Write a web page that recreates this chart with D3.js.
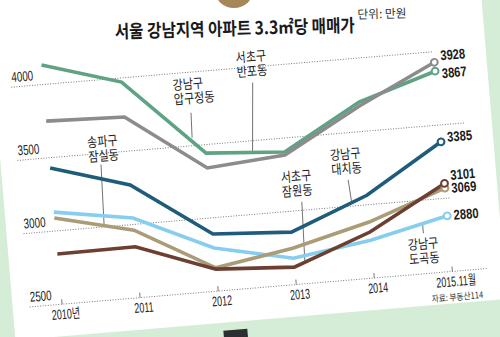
<!DOCTYPE html>
<html>
<head>
<meta charset="utf-8">
<script src="https://cdn.jsdelivr.net/npm/d3@7"></script>
<style>
  body { margin: 0; background: #d5ecd6; }
  svg { display: block; }
</style>
</head>
<body>
<div id="chart"></div>
<script>
// data (만원 per 3.3㎡)
const years = ["2010년", "2011", "2012", "2013", "2014", "2015.11월"];
const apgujeong = [4133, 3972, 3442, 3405, 3701, 3867];
const banpo     = [3750, 3733, 3341, 3384, 3674, 3928];
const daechi    = [3430, 3269, 2890, 2858, 3065, 3385];
const jamsil    = [3089, 2961, 2659, 2748, 2882, 3069];
const jamwon    = [2843, 2848, 2650, 2619, 2814, 3101];
const dogok     = [3129, 3044, 2795, 2680, 2758, 2880];
const yTicks = [2500, 3000, 3500, 4000];

const width = 500, height = 337;
const numFont = "'Liberation Sans', Arial, 'Noto Sans CJK KR', sans-serif";
const korFont = "'Noto Sans CJK KR', sans-serif";

// styling / annotation layout per series (not data)
const series = [
  { id: "apgujeong", values: apgujeong, color: "#5fa384", labelDy: 3,
    note: { lines: ["강남구", "압구정동"], x: 180, y: 84, leader: [196, 108, 195, 133] } },
  { id: "banpo", values: banpo, color: "#8c8c8c", labelDy: -6,
    note: { lines: ["서초구", "반포동"], x: 245, y: 62, leader: [260, 83, 254, 153] } },
  { id: "daechi", values: daechi, color: "#1f5b7a", labelDy: -4,
    note: { lines: ["강남구", "대치동"], x: 331, y: 167, leader: [347, 188, 348.5, 210] } },
  { id: "dogok", values: dogok, color: "#86cdef", labelDy: 0,
    note: { lines: ["강남구", "도곡동"], x: 401, y: 263, leader: [417.5, 237.5, 417.5, 247.5] } },
  { id: "jamsil", values: jamsil, color: "#a99c76", labelDy: 0.7,
    note: { lines: ["송파구", "잠실동"], x: 90, y: 134, leader: [102, 152, 100, 212.5] } },
  { id: "jamwon", values: jamwon, color: "#6c3f31", labelDy: -7.5,
    note: { lines: ["서초구", "잠원동"], x: 280, y: 185, leader: [299, 206, 297, 265] } }
];
const gridEnd = { 2500: 479, 3000: 447, 3500: 468, 4000: 442 };

// squeeze text horizontally (the print uses a condensed face)
function squeeze(sel, f) {
  sel.each(function () {
    const w = this.getComputedTextLength();
    this.setAttribute("textLength", w * f);
    this.setAttribute("lengthAdjust", "spacingAndGlyphs");
  });
}

const svg = d3.select("#chart").append("svg")
  .attr("width", width)
  .attr("height", height);

svg.append("rect").attr("width", width).attr("height", height).attr("fill", "#d5ecd6");

// the printed page is tilted a little
const page = svg.append("g").attr("transform", "rotate(-4.8,250,170)");
page.append("rect")
  .attr("x", 2).attr("y", -90).attr("width", 493).attr("height", 410)
  .attr("fill", "#fff");
page.append("rect")
  .attr("x", 210).attr("y", 328).attr("width", 24).attr("height", 30)
  .attr("fill", "#2b2f2f");

// scales
const x = d3.scalePoint().domain(years).range([51, 442.7]);
const y = d3.scaleLinear().domain([2500, 4000]).range([288, 67.5]);

// dotted grid + value labels on the left
page.append("g").selectAll("line")
  .data(yTicks)
  .join("line")
  .attr("x1", 19).attr("x2", d => gridEnd[d])
  .attr("y1", d => y(d)).attr("y2", d => y(d))
  .attr("stroke", "#7a7a7a")
  .attr("stroke-width", 1)
  .attr("stroke-dasharray", "1,1.6");

page.append("g").selectAll("text")
  .data(yTicks)
  .join("text")
  .attr("x", 20)
  .attr("y", d => y(d) - 5)
  .attr("font-family", numFont)
  .attr("font-size", 14)
  .attr("fill", "#222")
  .text(d => d)
  .call(squeeze, 0.7);

// x axis: small ticks pointing up, labels below
const xAxis = page.append("g")
  .attr("transform", `translate(0,${y(2500)})`)
  .call(d3.axisBottom(x).tickSize(-5).tickPadding(5));
xAxis.select(".domain").remove();
xAxis.selectAll(".tick line").attr("stroke", "#777").attr("stroke-width", 1);
xAxis.selectAll(".tick text")
  .attr("x", 3)
  .attr("font-family", numFont)
  .attr("font-size", 14)
  .attr("fill", "#222")
  .call(squeeze, 0.64);

// leader lines + area labels
const notes = page.append("g");
series.forEach(s => {
  const [x1, y1, x2, y2] = s.note.leader;
  notes.append("line")
    .attr("x1", x1).attr("y1", y1).attr("x2", x2).attr("y2", y2)
    .attr("stroke", "#555").attr("stroke-width", 0.8);
  s.note.lines.forEach((t, i) => {
    notes.append("text")
      .attr("x", s.note.x)
      .attr("y", s.note.y + i * 14.5)
      .attr("font-family", korFont)
      .attr("font-size", 13.5)
      .attr("fill", "#1e1e1e")
      .text(t)
      .call(squeeze, 0.82);
  });
});

// lines
const line = d3.line()
  .x((d, i) => x(years[i]))
  .y(d => y(d));

page.append("g").selectAll("path")
  .data(series)
  .join("path")
  .attr("d", d => line(d.values))
  .attr("fill", "none")
  .attr("stroke", d => d.color)
  .attr("stroke-width", 3.6);

// end markers
const last = years[years.length - 1];
page.append("g").selectAll("circle")
  .data(series)
  .join("circle")
  .attr("cx", x(last))
  .attr("cy", d => y(d.values[d.values.length - 1]))
  .attr("r", 3.4)
  .attr("fill", "#fff")
  .attr("stroke", d => d.color)
  .attr("stroke-width", 2);

page.append("g").selectAll("text")
  .data(series)
  .join("text")
  .attr("x", x(last) + 6.5)
  .attr("y", d => y(d.values[d.values.length - 1]) + 4.5 + d.labelDy)
  .attr("font-family", numFont)
  .attr("font-weight", "bold")
  .attr("font-size", 14)
  .attr("fill", "#1a1a1a")
  .text(d => d.values[d.values.length - 1])
  .call(squeeze, 0.8);

// source
page.append("text")
  .attr("x", 472).attr("y", 317)
  .attr("text-anchor", "end")
  .attr("font-family", korFont)
  .attr("font-size", 9)
  .attr("fill", "#333")
  .text("자료: 부동산114")
  .call(squeeze, 0.85);

// title block (tilted a little less than the plot)
svg.append("circle")
  .attr("cx", 234).attr("cy", -12).attr("r", 20)
  .attr("fill", "#a68758");

const head = svg.append("g").attr("transform", "rotate(-1.5,235,36)");
head.append("text")
  .attr("x", 115).attr("y", 35)
  .attr("font-family", korFont)
  .attr("font-weight", "bold")
  .attr("font-size", 18)
  .attr("fill", "#1a1a1a")
  .attr("textLength", 240)
  .attr("lengthAdjust", "spacingAndGlyphs")
  .text("서울 강남지역 아파트 3.3㎡당 매매가");
head.append("text")
  .attr("x", 358).attr("y", 22)
  .attr("font-family", korFont)
  .attr("font-size", 12)
  .attr("fill", "#333")
  .attr("textLength", 49)
  .attr("lengthAdjust", "spacingAndGlyphs")
  .text("단위: 만원");
</script>
</body>
</html>
